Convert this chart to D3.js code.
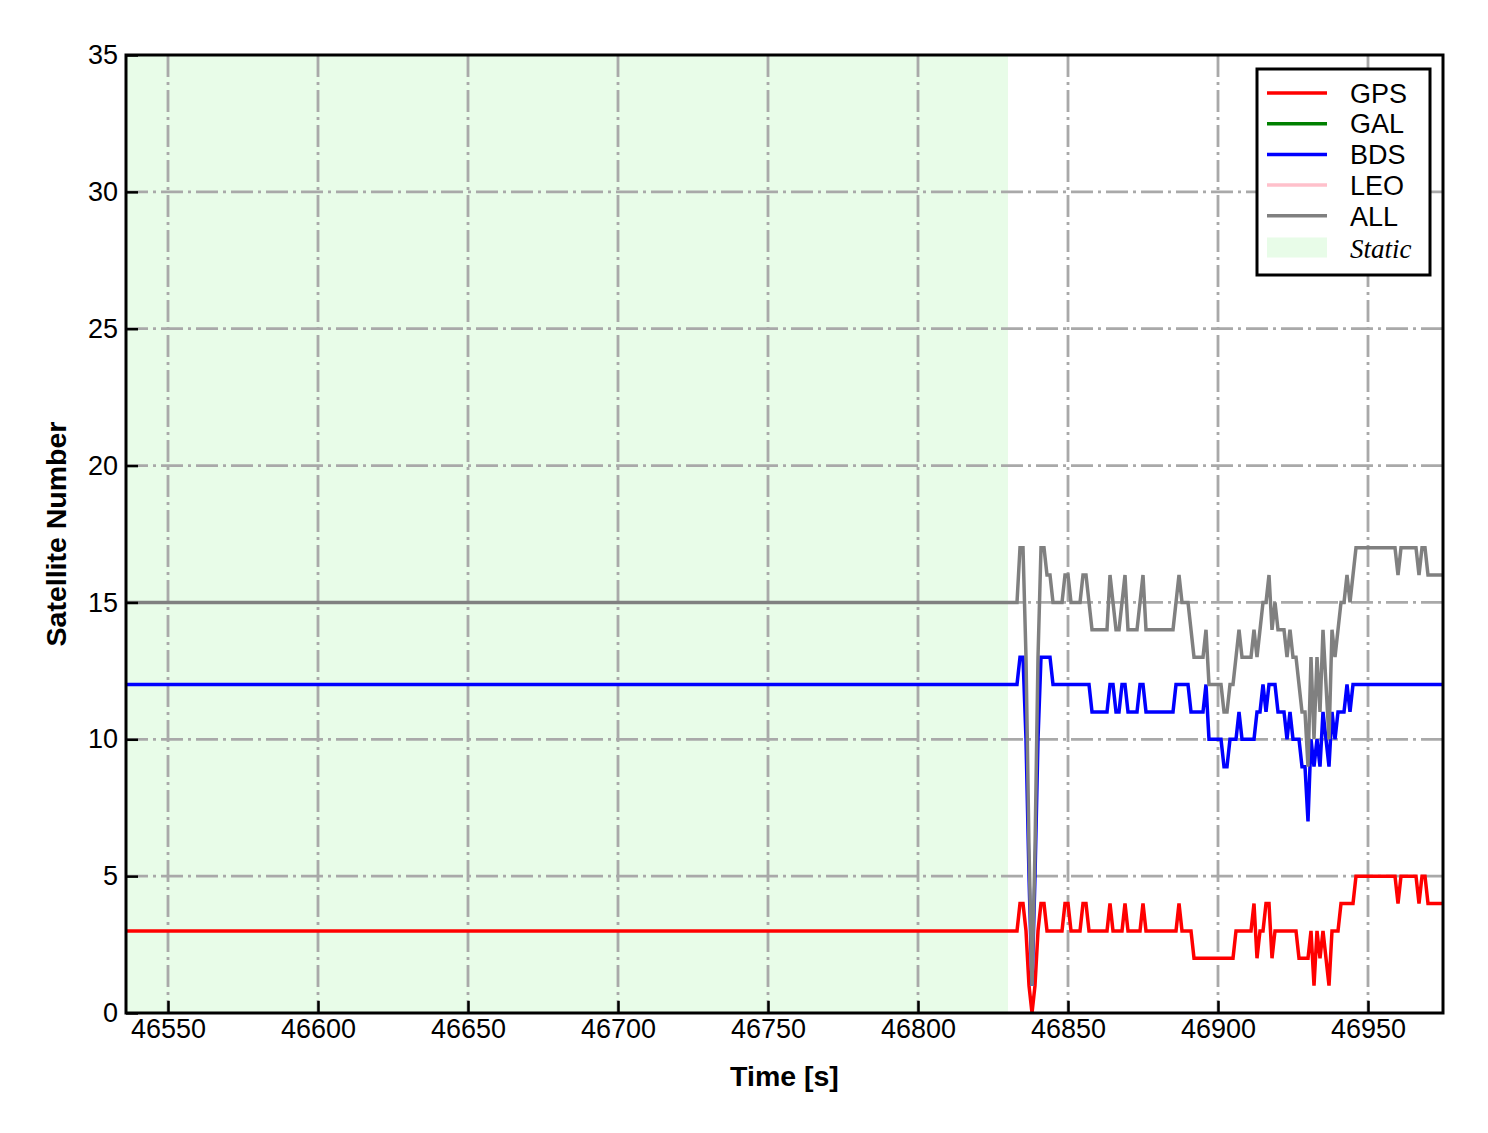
<!DOCTYPE html>
<html>
<head>
<meta charset="utf-8">
<script src="https://cdn.jsdelivr.net/npm/d3@7"></script>
<style>
  body { margin: 0; background: #fff; }
  text { font-family: "Liberation Sans", Arial, sans-serif; }
</style>
</head>
<body>
<div id="my_dataviz"></div>
<script>
// ---- data ----
const seriesNames = ["GPS", "GAL", "BDS", "LEO", "ALL"];
const xTicks = [46550, 46600, 46650, 46700, 46750, 46800, 46850, 46900, 46950];
const yTicks = [0, 5, 10, 15, 20, 25, 30, 35];

const timeStart = 46536;      // first epoch (left edge)
const staticEnd = 46830;      // end of static period
const dynamicStart = 46830;   // first epoch of 1 s samples below

// level during the static period
const gpsStatic = 3;
const bdsStatic = 12;
const allStatic = 15;

// 1 s samples from 46830 to 46975
const gpsValues = [
  3, 3, 3, 3, 4, 4, 3, 1, 0, 1, 3, 4, 4, 3, 3, 3, 3, 3, 3, 4,
  4, 3, 3, 3, 3, 4, 4, 3, 3, 3, 3, 3, 3, 3, 4, 3, 3, 3, 3, 4,
  3, 3, 3, 3, 3, 4, 3, 3, 3, 3, 3, 3, 3, 3, 3, 3, 3, 4, 3, 3,
  3, 3, 2, 2, 2, 2, 2, 2, 2, 2, 2, 2, 2, 2, 2, 2, 3, 3, 3, 3,
  3, 3, 4, 2, 3, 3, 4, 4, 2, 3, 3, 3, 3, 3, 3, 3, 3, 2, 2, 2,
  2, 3, 1, 3, 2, 3, 2, 1, 3, 3, 3, 4, 4, 4, 4, 4, 5, 5, 5, 5,
  5, 5, 5, 5, 5, 5, 5, 5, 5, 5, 4, 5, 5, 5, 5, 5, 5, 4, 5, 5,
  4, 4, 4, 4, 4, 4
];
const bdsValues = [
  12, 12, 12, 12, 13, 13, 10, 5, 1, 5, 10, 13, 13, 13, 13, 12, 12, 12, 12, 12,
  12, 12, 12, 12, 12, 12, 12, 12, 11, 11, 11, 11, 11, 11, 12, 12, 11, 11, 12, 12,
  11, 11, 11, 11, 12, 12, 11, 11, 11, 11, 11, 11, 11, 11, 11, 11, 12, 12, 12, 12,
  12, 11, 11, 11, 11, 11, 12, 10, 10, 10, 10, 10, 9, 9, 10, 10, 10, 11, 10, 10,
  10, 10, 10, 11, 11, 12, 11, 12, 12, 12, 11, 11, 11, 10, 11, 10, 10, 10, 9, 9,
  7, 10, 9, 10, 9, 11, 10, 9, 11, 10, 11, 11, 11, 12, 11, 12, 12, 12, 12, 12,
  12, 12, 12, 12, 12, 12, 12, 12, 12, 12, 12, 12, 12, 12, 12, 12, 12, 12, 12, 12,
  12, 12, 12, 12, 12, 12
];
const allValues = [
  15, 15, 15, 15, 17, 17, 13, 6, 1, 6, 13, 17, 17, 16, 16, 15, 15, 15, 15, 16,
  16, 15, 15, 15, 15, 16, 16, 15, 14, 14, 14, 14, 14, 14, 16, 15, 14, 14, 15, 16,
  14, 14, 14, 14, 15, 16, 14, 14, 14, 14, 14, 14, 14, 14, 14, 14, 15, 16, 15, 15,
  15, 14, 13, 13, 13, 13, 14, 12, 12, 12, 12, 12, 11, 11, 12, 12, 13, 14, 13, 13,
  13, 13, 14, 13, 14, 15, 15, 16, 14, 15, 14, 14, 14, 13, 14, 13, 13, 12, 11, 11,
  9, 13, 10, 13, 11, 14, 12, 10, 14, 13, 14, 15, 15, 16, 15, 16, 17, 17, 17, 17,
  17, 17, 17, 17, 17, 17, 17, 17, 17, 17, 16, 17, 17, 17, 17, 17, 17, 16, 17, 17,
  16, 16, 16, 16, 16, 16
];
// GAL and LEO have no observations in this window (legend only)
const galValues = [];
const leoValues = [];

// ---- styles ----
const colors = { GPS: "#ff0000", GAL: "#008000", BDS: "#0000ff", LEO: "#ffc0cb", ALL: "#808080" };
const staticFill = "#e8fce8";
const gridColor = "#a9a9a9";
const fontSize = 27;
const titleSize = 28.5;

// set the dimensions and margins of the graph
var margin = { top: 55, right: 45, bottom: 120, left: 126 },
    width = 1488 - margin.left - margin.right,
    height = 1133 - margin.top - margin.bottom;

var svg = d3.select("#my_dataviz")
    .append("svg")
    .attr("width", 1488)
    .attr("height", 1133)
    .append("g")
    .attr("transform", "translate(" + margin.left + "," + margin.top + ")");

var x = d3.scaleLinear().domain([timeStart, 46975]).range([0, width]);
var y = d3.scaleLinear().domain([0, 35]).range([height, 0]);

// build series as [time, value] points
const dynTimes = d3.range(dynamicStart, dynamicStart + gpsValues.length);
function buildSeries(staticLevel, values) {
    if (values.length === 0) return [];
    return [[timeStart, staticLevel]].concat(dynTimes.map((t, i) => [t, values[i]]));
}
const series = {
    GPS: buildSeries(gpsStatic, gpsValues),
    GAL: buildSeries(null, galValues),
    BDS: buildSeries(bdsStatic, bdsValues),
    LEO: buildSeries(null, leoValues),
    ALL: buildSeries(allStatic, allValues)
};

svg.append("clipPath").attr("id", "plotclip")
    .append("rect").attr("width", width).attr("height", height);

// static period shading
svg.append("rect")
    .attr("x", x(timeStart))
    .attr("y", 0)
    .attr("width", x(staticEnd) - x(timeStart))
    .attr("height", height)
    .style("fill", staticFill);

// dash-dot grid
svg.append("g").selectAll("line")
    .data(xTicks)
    .enter().append("line")
    .attr("x1", d => x(d)).attr("x2", d => x(d))
    .attr("y1", 0).attr("y2", height)
    .attr("stroke", gridColor).attr("stroke-width", 2.8)
    .attr("stroke-dasharray", "22,5,3,5");
svg.append("g").selectAll("line")
    .data(yTicks.filter(d => d > 0 && d < 35))
    .enter().append("line")
    .attr("y1", d => y(d)).attr("y2", d => y(d))
    .attr("x1", 0).attr("x2", width)
    .attr("stroke", gridColor).attr("stroke-width", 2.8)
    .attr("stroke-dasharray", "22,5,3,5");

// series lines
var line = d3.line().x(d => x(d[0])).y(d => y(d[1]));
svg.append("g").attr("clip-path", "url(#plotclip)")
    .selectAll("path")
    .data(seriesNames.filter(n => series[n].length > 0))
    .enter().append("path")
    .attr("d", n => line(series[n]))
    .attr("fill", "none")
    .attr("stroke", n => colors[n])
    .attr("stroke-width", 3.5)
    .attr("stroke-linejoin", "miter");

// axes with inward ticks
var xAxis = svg.append("g")
    .attr("transform", "translate(0," + height + ")")
    .call(d3.axisBottom(x).tickValues(xTicks).tickFormat(d3.format("d"))
        .tickSizeInner(-12).tickSizeOuter(0).tickPadding(6));
var yAxis = svg.append("g")
    .call(d3.axisLeft(y).tickValues(yTicks).tickFormat(d3.format("d"))
        .tickSizeInner(-12).tickSizeOuter(0).tickPadding(8));
[xAxis, yAxis].forEach(a => {
    a.select(".domain").remove();
    a.selectAll(".tick line").attr("stroke", "#000").attr("stroke-width", 2.5);
    a.selectAll(".tick text").attr("font-size", fontSize + "px")
        .attr("font-family", "'Liberation Sans', Arial, sans-serif").attr("fill", "#000");
});

// frame
svg.append("rect")
    .attr("width", width).attr("height", height)
    .attr("fill", "none").attr("stroke", "#000").attr("stroke-width", 3);

// axis titles
svg.append("text")
    .attr("x", width / 2).attr("y", height + 73)
    .attr("text-anchor", "middle")
    .attr("font-size", titleSize + "px").attr("font-weight", "bold")
    .text("Time [s]");
svg.append("text")
    .attr("transform", "translate(" + (-60) + "," + (height / 2) + ") rotate(-90)")
    .attr("text-anchor", "middle")
    .attr("font-size", titleSize + "px").attr("font-weight", "bold")
    .text("Satellite Number");

// legend
var legend = svg.append("g").attr("transform", "translate(" + (1257 - margin.left) + "," + (69 - margin.top) + ")");
legend.append("rect")
    .attr("width", 173).attr("height", 206)
    .attr("fill", "#fff").attr("stroke", "#000").attr("stroke-width", 3);
const rowGap = 30.7;
legend.selectAll("line.item")
    .data(seriesNames)
    .enter().append("line")
    .attr("class", "item")
    .attr("x1", 10).attr("x2", 70)
    .attr("y1", (d, i) => 24 + i * rowGap).attr("y2", (d, i) => 24 + i * rowGap)
    .attr("stroke", d => colors[d]).attr("stroke-width", 3.5);
legend.selectAll("text.item")
    .data(seriesNames)
    .enter().append("text")
    .attr("class", "item")
    .attr("x", 93).attr("y", (d, i) => 24 + i * rowGap)
    .attr("dy", "0.36em")
    .attr("font-size", fontSize + "px")
    .text(d => d);
legend.append("rect")
    .attr("x", 10).attr("y", 24 + 5 * rowGap - 9)
    .attr("width", 60).attr("height", 20)
    .attr("fill", staticFill);
legend.append("text")
    .attr("x", 93).attr("y", 24 + 5 * rowGap + 2)
    .attr("dy", "0.36em")
    .attr("font-size", "27px")
    .attr("font-style", "italic")
    .style("font-family", "'Liberation Serif', 'Times New Roman', serif")
    .text("Static");
</script>
</body>
</html>
